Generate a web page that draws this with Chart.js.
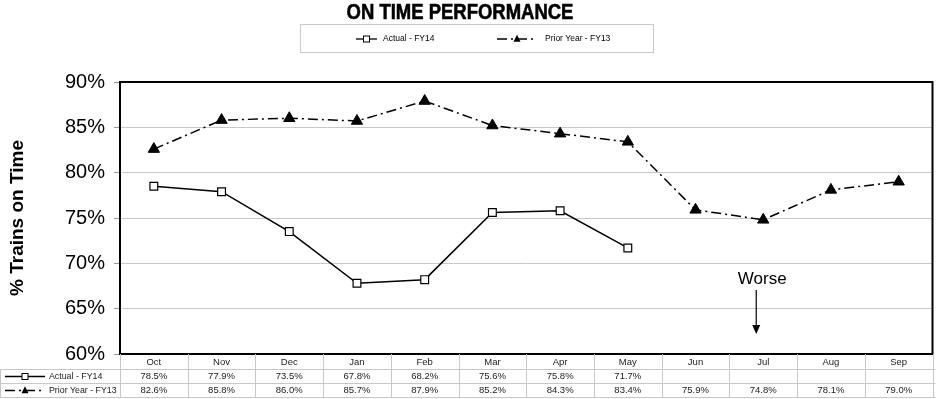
<!DOCTYPE html>
<html>
<head>
<meta charset="utf-8">
<script src="https://cdn.jsdelivr.net/npm/chart.js@4.4.1/dist/chart.umd.min.js"></script>
<style>
  html, body { margin: 0; padding: 0; background: #fff; }
  #wrap { width: 940px; height: 399px; }
</style>
</head>
<body>
<div id="wrap"><canvas id="myChart" width="940" height="399"></canvas></div>
<script>
const months = ['Oct', 'Nov', 'Dec', 'Jan', 'Feb', 'Mar', 'Apr', 'May', 'Jun', 'Jul', 'Aug', 'Sep'];
const actualFY14 = [78.5, 77.9, 73.5, 67.8, 68.2, 75.6, 75.8, 71.7, null, null, null, null];
const priorFY13 = [82.6, 85.8, 86.0, 85.7, 87.9, 85.2, 84.3, 83.4, 75.9, 74.8, 78.1, 79.0];
const yTicks = [60, 65, 70, 75, 80, 85, 90];

const FONT = 'Liberation Sans, Arial, sans-serif';
const DASH = [10, 4, 2, 4];

function drawSquare(ctx, x, y, s) {
  ctx.fillStyle = '#fff';
  ctx.strokeStyle = '#000';
  ctx.lineWidth = 1;
  ctx.fillRect(x - s / 2, y - s / 2, s, s);
  ctx.strokeRect(x - s / 2, y - s / 2, s, s);
}

function drawTriangle(ctx, x, y, s) {
  ctx.fillStyle = '#000';
  ctx.beginPath();
  ctx.moveTo(x, y - s * 0.6);
  ctx.lineTo(x + s / 2, y + s * 0.4);
  ctx.lineTo(x - s / 2, y + s * 0.4);
  ctx.closePath();
  ctx.fill();
}

function legendActual(ctx, x1, x2, y, s) {
  ctx.save();
  ctx.strokeStyle = '#000';
  ctx.lineWidth = 1.3;
  ctx.beginPath();
  ctx.moveTo(x1, y);
  ctx.lineTo(x2, y);
  ctx.stroke();
  drawSquare(ctx, (x1 + x2) / 2, y, s);
  ctx.restore();
}

function legendPrior(ctx, x1, x2, y, s) {
  ctx.save();
  ctx.strokeStyle = '#000';
  ctx.lineWidth = 1.3;
  ctx.setLineDash(DASH);
  ctx.beginPath();
  ctx.moveTo(x1, y);
  ctx.lineTo(x2, y);
  ctx.stroke();
  ctx.setLineDash([]);
  drawTriangle(ctx, x1 + (x2 - x1) * 0.5, y, s);
  ctx.restore();
}

const extras = {
  id: 'extras',
  afterDatasetsDraw(chart) {
    const ctx = chart.ctx;
    const area = chart.chartArea;
    ctx.save();
    ctx.strokeStyle = '#000';
    ctx.lineWidth = 2;
    ctx.strokeRect(area.left, area.top, area.right - area.left, area.bottom - area.top);
    ctx.restore();
  },
  afterDraw(chart) {
    const ctx = chart.ctx;
    const area = chart.chartArea;
    const xs = chart.scales.x;
    ctx.save();

    // title
    ctx.save();
    ctx.translate(460, 13);
    ctx.scale(0.84, 1);
    ctx.font = 'bold 22px ' + FONT;
    ctx.fillStyle = '#000';
    ctx.strokeStyle = '#000';
    ctx.lineWidth = 0.6;
    ctx.textAlign = 'center';
    ctx.textBaseline = 'middle';
    ctx.fillText('ON TIME PERFORMANCE', 0, 0);
    ctx.strokeText('ON TIME PERFORMANCE', 0, 0);
    ctx.restore();

    // legend box
    ctx.strokeStyle = '#c8c8c8';
    ctx.lineWidth = 1;
    ctx.strokeRect(300.5, 24.5, 353, 28);
    legendActual(ctx, 356, 377, 39, 6);
    legendPrior(ctx, 497, 537, 39, 7);
    ctx.font = '8.5px ' + FONT;
    ctx.fillStyle = '#000';
    ctx.textAlign = 'left';
    ctx.textBaseline = 'middle';
    ctx.fillText('Actual - FY14', 383, 39);
    ctx.fillText('Prior Year - FY13', 545, 39);

    // data table
    const colW = (area.right - area.left) / months.length;
    const tRight = area.right + 3;
    const rowY = [area.bottom, 369.5, 383.5, 397.5];
    ctx.strokeStyle = '#c8c8c8';
    ctx.lineWidth = 1;
    ctx.beginPath();
    for (let i = 1; i < rowY.length; i++) {
      ctx.moveTo(0, rowY[i]);
      ctx.lineTo(tRight, rowY[i]);
    }
    for (let i = 0; i <= months.length; i++) {
      const x = Math.round(area.left + i * colW) + 0.5;
      ctx.moveTo(x, area.bottom);
      ctx.lineTo(x, rowY[3]);
    }
    ctx.moveTo(0.5, rowY[1]);
    ctx.lineTo(0.5, rowY[3]);
    ctx.stroke();

    ctx.font = '9.5px ' + FONT;
    ctx.fillStyle = '#222';
    ctx.textAlign = 'center';
    ctx.textBaseline = 'middle';
    months.forEach((m, i) => {
      const cx = xs.getPixelForValue(i);
      ctx.fillText(m, cx, 362);
      if (actualFY14[i] !== null) ctx.fillText(actualFY14[i].toFixed(1) + '%', cx, 376.5);
      if (priorFY13[i] !== null) ctx.fillText(priorFY13[i].toFixed(1) + '%', cx, 390.5);
    });

    legendActual(ctx, 5, 45, 376.5, 6);
    legendPrior(ctx, 5, 45, 390.5, 7);
    ctx.fillStyle = '#222';
    ctx.textAlign = 'left';
    ctx.font = '8.8px ' + FONT;
    ctx.fillText('Actual - FY14', 49, 376.5);
    ctx.fillText('Prior Year - FY13', 49, 390.5);

    // Worse annotation
    const jx = xs.getPixelForValue(9) - 7;
    ctx.font = '17px ' + FONT;
    ctx.fillStyle = '#000';
    ctx.textAlign = 'center';
    ctx.textBaseline = 'alphabetic';
    ctx.fillText('Worse', jx + 6, 284);
    ctx.strokeStyle = '#000';
    ctx.lineWidth = 1.2;
    ctx.beginPath();
    ctx.moveTo(jx, 290);
    ctx.lineTo(jx, 326);
    ctx.stroke();
    ctx.beginPath();
    ctx.moveTo(jx - 4, 325);
    ctx.lineTo(jx + 4, 325);
    ctx.lineTo(jx, 334);
    ctx.closePath();
    ctx.fillStyle = '#000';
    ctx.fill();

    ctx.restore();
  }
};

const ctx = document.getElementById('myChart').getContext('2d');
const myChart = new Chart(ctx, {
  type: 'line',
  data: {
    labels: months,
    datasets: [
      {
        label: 'Actual - FY14',
        data: actualFY14,
        borderColor: '#000',
        borderWidth: 1.5,
        pointStyle: 'rect',
        pointRadius: 5.5,
        pointBackgroundColor: '#fff',
        pointBorderColor: '#000',
        pointBorderWidth: 1.2,
        fill: false,
        tension: 0,
        spanGaps: false
      },
      {
        label: 'Prior Year - FY13',
        data: priorFY13,
        borderColor: '#000',
        borderWidth: 1.5,
        borderDash: DASH,
        pointStyle: 'triangle',
        pointRadius: 6.5,
        pointBackgroundColor: '#000',
        pointBorderColor: '#000',
        pointBorderWidth: 1,
        fill: false,
        tension: 0
      }
    ]
  },
  options: {
    responsive: false,
    animation: false,
    layout: {
      padding: { top: 82, bottom: 45, left: 0, right: 7 }
    },
    plugins: {
      legend: { display: false },
      title: { display: false },
      tooltip: { enabled: false }
    },
    scales: {
      x: {
        type: 'category',
        display: false,
        offset: true
      },
      y: {
        min: 60,
        max: 90,
        afterFit: (scale) => { scale.width = 120; },
        afterBuildTicks: (scale) => { scale.ticks = yTicks.map(v => ({ value: v })); },
        title: {
          display: true,
          text: '% Trains on Time',
          color: '#000',
          font: { family: FONT, size: 19, weight: 'bold' },
          padding: { top: 6, bottom: 0 }
        },
        grid: {
          color: '#c8c8c8',
          lineWidth: 1,
          tickColor: '#999',
          tickLength: 6
        },
        border: {
          display: true,
          color: '#000',
          width: 1.5
        },
        ticks: {
          color: '#000',
          padding: 9,
          font: { family: FONT, size: 20 },
          callback: (v) => v + '%'
        }
      }
    }
  },
  plugins: [extras]
});
</script>
</body>
</html>
